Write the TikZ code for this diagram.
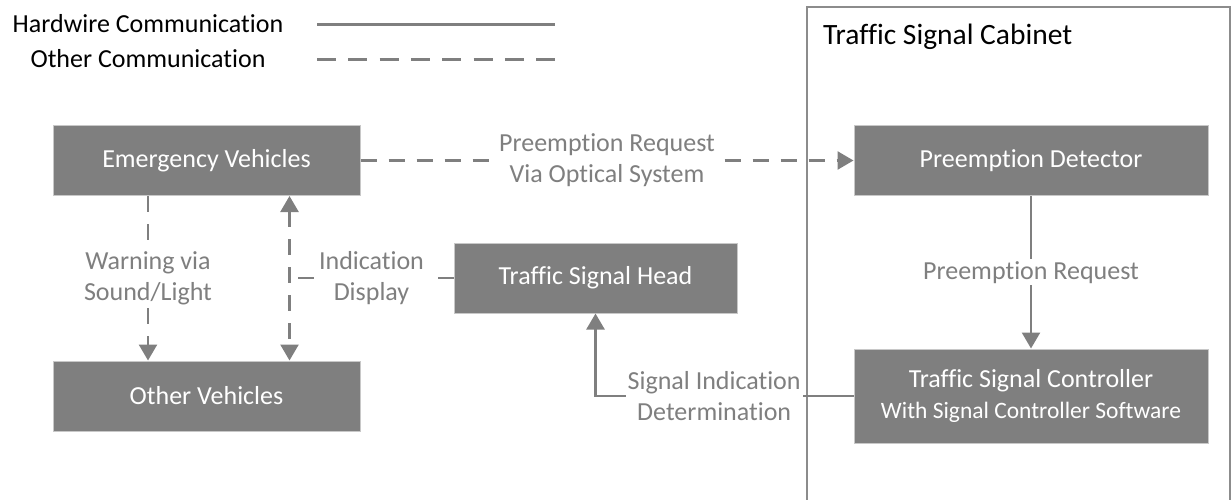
\documentclass[tikz,border=0pt]{standalone}
\usepackage{fontspec}
\setmainfont{Carlito}[Ligatures=NoCommon]
\usepackage{xcolor}
\definecolor{BoxGray}{HTML}{7F7F7F}
\definecolor{EdgeGray}{HTML}{C8C8C8}
\definecolor{CabGray}{HTML}{8C8C8C}
\usetikzlibrary{arrows.meta}
\tikzset{
  sigbox/.style={
    fill=BoxGray,
    draw=EdgeGray,
    line width=1pt,
    text=white,
    align=center,
    font=\fontsize{26}{31}\selectfont,
    minimum height=70pt,
    inner sep=0pt
  },
  siglabel/.style={
    fill=white,
    text=BoxGray,
    align=center,
    font=\fontsize{26}{31}\selectfont,
    inner sep=2pt
  },
  legendtext/.style={
    font=\fontsize{26}{31}\selectfont,
    inner sep=0pt
  },
  hardline/.style={
    draw=BoxGray,
    line width=2.5pt
  },
  otherline/.style={
    hardline,
    dash pattern=on 16pt off 12pt
  },
  sigarrow/.style={
    -{Triangle[length=16pt,width=18pt]}
  }
}

\begin{document}
\begin{tikzpicture}[x=1pt,y=-1pt]
  \useasboundingbox (0,0) rectangle (1231,500);
  \draw[draw=CabGray, line width=2pt] (807,505) -- (807,7) -- (1230,7) -- (1230,505);
  \node[legendtext, anchor=base west] (cabinet) at (823,45) {\fontsize{29.5}{34}\selectfont Traffic Signal Cabinet};
  \node[legendtext, anchor=base] (hwtext) at (148,33) {Hardwire Communication};
  \node[legendtext, anchor=base] (ottext) at (148,68) {Other Communication};
  \coordinate (hwa) at (317,25);
  \coordinate (hwb) at (555,25);
  \coordinate (ota) at (317,60);
  \coordinate (otb) at (555,60);
  \draw[hardline, line width=3pt] (hwa) -- (hwb);
  \draw[hardline, line width=3pt, dash pattern=on 19pt off 12.3pt] (ota) -- (otb);
  \node[sigbox, minimum width=307pt] (ev) at (206.5,160.5) {Emergency Vehicles};
  \node[sigbox, minimum width=307pt] (others) at (206.5,396) {Other Vehicles};
  \node[sigbox, minimum width=283pt] (head) at (595.5,278) {Traffic Signal Head};
  \node[sigbox, minimum width=354pt] (detector) at (1031,160.5) {Preemption Detector};
  \node[sigbox, minimum width=354pt, minimum height=94pt] (controller) at (1031,396) {Traffic Signal Controller\\{\fontsize{23.5}{28}\selectfont With Signal Controller Software}};
  \coordinate (evdisp) at ([xshift=-71pt]ev.south east);
  \draw[otherline, sigarrow] ([xshift=-58.5pt]ev.south) -- node[siglabel]{Warning via\\Sound/Light} ([xshift=-58.5pt]others.north);
  \draw[otherline, {Triangle[length=16pt,width=18pt]}-{Triangle[length=16pt,width=18pt]}] (evdisp) -- (evdisp |- others.north);
  \draw[otherline] (head.west) -- node[siglabel]{Indication\\Display} (head.west -| evdisp);
  \draw[otherline, sigarrow] (ev.east) -- node[siglabel]{Preemption Request\\Via Optical System} (detector.west);
  \draw[hardline, sigarrow] (detector) -- node[siglabel]{Preemption Request} (controller);
  \draw[hardline, sigarrow] (controller.west) -| node[siglabel, pos=0.27]{Signal Indication\\Determination} (head.south);
\end{tikzpicture}
\end{document}
